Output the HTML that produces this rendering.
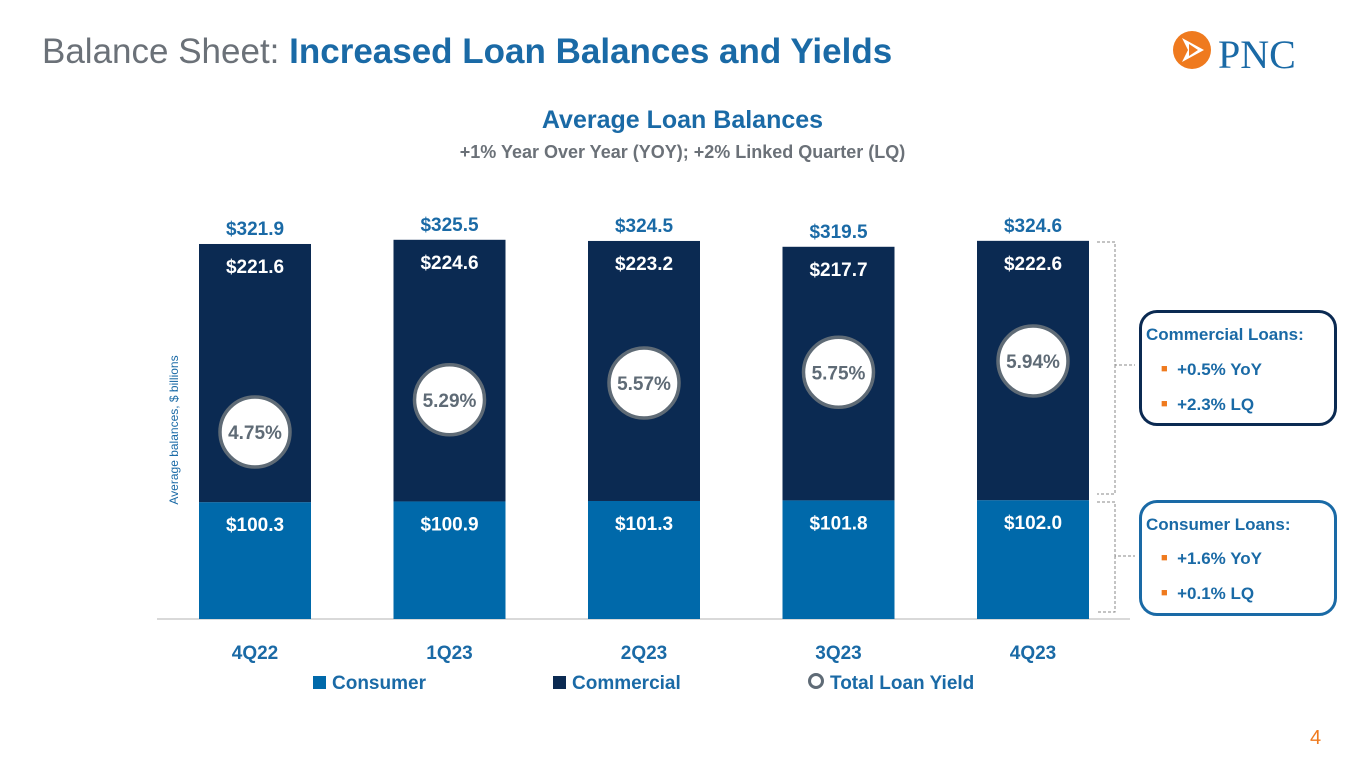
<!DOCTYPE html>
<html><head><meta charset="utf-8"><style>
body{margin:0;width:1365px;height:768px;background:#fff;font-family:"Liberation Sans",sans-serif;overflow:hidden;position:relative}
.t{position:absolute;white-space:nowrap}
</style></head><body>
<div class="t" style="left:42px;top:32px;font-size:35px;color:#6b7178">Balance Sheet: <b style="color:#1a6aa6">Increased Loan Balances and Yields</b></div>
<svg style="position:absolute;left:1170px;top:28px" width="165" height="50">
<circle cx="22" cy="22" r="19" fill="#ef7a1e"/>
<path d="M12 10 L34 22 L12 34 L18 22 Z" fill="#fff"/>
<path d="M19 16 L28 22 L19 28 Z" fill="#ef7a1e"/>
<text x="48" y="40" font-family="Liberation Serif,serif" font-size="40" fill="#1a6aa6">PNC</text>
</svg>
<div class="t" style="left:0;width:1365px;text-align:center;top:106px;font-size:25px;font-weight:bold;color:#1a6aa6">Average Loan Balances</div>
<div class="t" style="left:0;width:1365px;text-align:center;top:142px;font-size:18px;font-weight:bold;color:#6b7178">+1% Year Over Year (YOY); +2% Linked Quarter (LQ)</div>
<div class="t" style="left:1310px;top:727px;font-size:20px;color:#ef7a1e">4</div>
<svg id="c" width="1365" height="768" style="position:absolute;left:0;top:0"></svg>
<script>
const categories=["4Q22","1Q23","2Q23","3Q23","4Q23"];
const consumer=[100.3,100.9,101.3,101.8,102.0];
const commercial=[221.6,224.6,223.2,217.7,222.6];
const totals=[321.9,325.5,324.5,319.5,324.6];
const yields=[4.75,5.29,5.57,5.75,5.94];
const NS="http://www.w3.org/2000/svg",svg=document.getElementById('c');
function el(t,a,txt){const e=document.createElementNS(NS,t);for(const k in a)e.setAttribute(k,a[k]);if(txt!=null)e.textContent=txt;svg.appendChild(e);return e;}
const base=619,sc=1.165;
const y=v=>base-v*sc;
const x=i=>255+i*194.5;
const yy=v=>432-(v-4.75)*59.7;
const bw=112;
let e=el('line',{x1:157,x2:1130,y1:base,y2:base,stroke:'#d9d9d9','stroke-width':2});


e=el('text',{x:0,y:0,transform:'translate(178,430) rotate(-90)','text-anchor':'middle','font-size':12,fill:'#1a6aa6'},'Average balances, $ billions');


categories.forEach((c,i)=>{
 const cx=x(i),c1=y(consumer[i]),c2=y(consumer[i]+commercial[i]);
 let r=el('rect',{x:cx-bw/2,y:c1,width:bw,height:base-c1,fill:'#0069aa'});
 
 
 r=el('rect',{x:cx-bw/2,y:c2,width:bw,height:c1-c2,fill:'#0b2a52'});
 
 
 let t=el('text',{x:cx,y:c1+29,'text-anchor':'middle','font-size':19,'font-weight':'bold',fill:'#fff'},'$'+consumer[i].toFixed(1));
 
 
 t=el('text',{x:cx,y:c2+29,'text-anchor':'middle','font-size':19,'font-weight':'bold',fill:'#fff'},'$'+commercial[i].toFixed(1));
 
 
 t=el('text',{x:cx,y:y(totals[i])-9,'text-anchor':'middle','font-size':19,'font-weight':'bold',fill:'#1a6aa6'},'$'+totals[i].toFixed(1));
 
 
 const cy=yy(yields[i]);
 let ci=el('circle',{cx:cx,cy:cy,r:35,fill:'#fff',stroke:'#5f6b76','stroke-width':3.5});
 
 
 t=el('text',{x:cx,y:cy+7,'text-anchor':'middle','font-size':19,'font-weight':'bold',fill:'#5f6b76'},yields[i].toFixed(2)+'%');
 
 
 t=el('text',{x:cx,y:659,'text-anchor':'middle','font-size':19,'font-weight':'bold',fill:'#1a6aa6'},c);
 
 
});
// brackets
e=el('path',{d:'M1097 242 H1115 V365 H1135 M1115 365 V494 H1097',fill:'none',stroke:'#888','stroke-width':1,'stroke-dasharray':'3,2'});


e=el('path',{d:'M1097 502 H1115 V556 H1135 M1115 556 V612 H1097',fill:'none',stroke:'#888','stroke-width':1,'stroke-dasharray':'3,2'});


</script>
<div style="position:absolute;left:1139px;top:310px;width:192px;height:110px;border:3px solid #0b2a52;border-radius:18px;color:#1a6aa6;font-weight:bold">
 <div style="position:absolute;left:4px;top:12px;font-size:17px">Commercial Loans:</div>
 <div style="position:absolute;left:19px;top:47px;font-size:17px"><span style="color:#ef7a1e;font-size:11px;vertical-align:3px">■</span>&nbsp; +0.5% YoY</div>
 <div style="position:absolute;left:19px;top:82px;font-size:17px"><span style="color:#ef7a1e;font-size:11px;vertical-align:3px">■</span>&nbsp; +2.3% LQ</div>
</div>
<div style="position:absolute;left:1139px;top:500px;width:192px;height:110px;border:3px solid #1a6aa6;border-radius:18px;color:#1a6aa6;font-weight:bold">
 <div style="position:absolute;left:4px;top:12px;font-size:17px">Consumer Loans:</div>
 <div style="position:absolute;left:19px;top:46px;font-size:17px"><span style="color:#ef7a1e;font-size:11px;vertical-align:3px">■</span>&nbsp; +1.6% YoY</div>
 <div style="position:absolute;left:19px;top:81px;font-size:17px"><span style="color:#ef7a1e;font-size:11px;vertical-align:3px">■</span>&nbsp; +0.1% LQ</div>
</div>
<div style="position:absolute;top:673px;left:313px;font-size:19px;font-weight:bold;color:#1a6aa6;white-space:nowrap">
 <span style="position:absolute;left:0"><span style="display:inline-block;width:13px;height:13px;background:#0069aa;margin-right:6px"></span>Consumer</span>
 <span style="position:absolute;left:240px"><span style="display:inline-block;width:13px;height:13px;background:#0b2a52;margin-right:6px"></span>Commercial</span>
 <span style="position:absolute;left:495px"><span style="display:inline-block;width:10px;height:10px;border:3px solid #5f6b76;border-radius:50%;margin-right:6px"></span>Total Loan Yield</span>
</div>
</body></html>
